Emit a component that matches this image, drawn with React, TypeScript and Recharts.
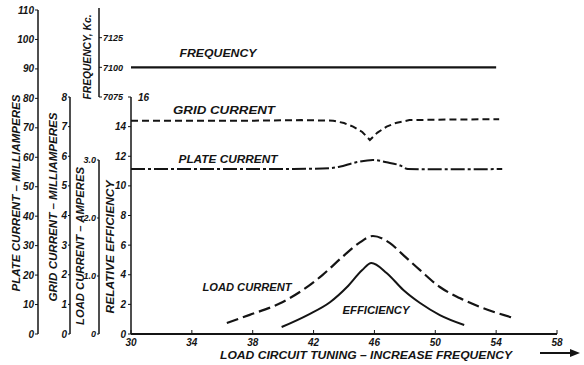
import React from "react";
import { LineChart, Line, XAxis, YAxis } from "recharts";

// Load circuit tuning (x) for each curve
const freqX = [30, 54];
const freqKc = [7100, 7100];

const gridX = [30, 34, 38, 41.2, 43.3, 44, 44.6, 45.2, 45.7, 46.2, 46.8, 47.4, 48.3, 51, 54.2];
const gridMa = [7.2, 7.2, 7.2, 7.22, 7.2, 7.12, 7.0, 6.82, 6.55, 6.8, 7.0, 7.12, 7.22, 7.24, 7.25];

const plateX = [30, 34, 38, 42, 43.1, 43.7, 44.8, 45.9, 46.8, 47.7, 48.2, 50, 54.4];
const plateMa = [56, 56, 56, 56.1, 56.3, 56.8, 58.3, 59.1, 58.3, 57.2, 56, 55.9, 56];

const loadX = [36.3, 37.8, 39.8, 41.3, 42.6, 43.9, 45.0, 45.9, 47.0, 47.9, 49.0, 50.3, 51.6, 53.1, 55.1];
const loadAmps = [0.19, 0.33, 0.53, 0.76, 1.02, 1.33, 1.57, 1.69, 1.57, 1.36, 1.1, 0.81, 0.62, 0.45, 0.28];

const effX = [39.9, 41.6, 43.1, 44.2, 45.2, 45.8, 46.8, 47.9, 49.0, 50.3, 51.9];
const effRel = [0.47, 1.28, 2.16, 3.17, 4.32, 4.79, 4.12, 2.97, 2.09, 1.28, 0.61];

const xTicks = [30, 34, 38, 42, 46, 50, 54, 58];
const effTicks = [0, 2, 4, 6, 8, 10, 12, 14, 16];
const plateTicks = [0, 10, 20, 30, 40, 50, 60, 70, 80, 90, 100, 110];
const gridTicks = [0, 1, 2, 3, 4, 5, 6, 7, 8];
const loadTicks = [0, 1, 2, 3];
const freqTicks = [7075, 7100, 7125];

const W = 584;
const H = 365;
const INK = "#141414";
const FONT = "'Liberation Sans', Arial, sans-serif";

const tickStyle = {
  fontSize: 10,
  fill: INK,
  fontWeight: 700,
  fontStyle: "italic",
  fontFamily: FONT,
};

const zip = (xs: number[], ys: number[]) => xs.map((x, i) => ({ x, y: ys[i] }));

const layer: React.CSSProperties = { position: "absolute", left: 0, top: 0 };

function EffTick({ x, y, payload }: any) {
  const top = payload.value === 16;
  return (
    <text
      x={top ? x + 12 : x}
      y={y}
      textAnchor={top ? "start" : "end"}
      dominantBaseline="central"
      style={tickStyle}
    >
      {payload.value}
    </text>
  );
}

function Caption({ x, y, len, children, rotate }: any) {
  return (
    <text
      x={x}
      y={y}
      textAnchor="middle"
      dominantBaseline="central"
      textLength={len}
      lengthAdjust="spacingAndGlyphs"
      transform={rotate ? `rotate(-90 ${x} ${y})` : undefined}
      fill={INK}
      fontSize={10}
      fontWeight={700}
      fontStyle="italic"
      fontFamily={FONT}
    >
      {children}
    </text>
  );
}

// x scale shared by every layer: 30 sits at px 131, 58 at px 557
function HiddenX({ padLeft }: { padLeft: number }) {
  return (
    <XAxis
      dataKey="x"
      type="number"
      domain={[30, 58]}
      hide
      padding={{ left: padLeft, right: 0 }}
      allowDataOverflow
    />
  );
}

export default function App() {
  const axisLine = { stroke: INK, strokeWidth: 1.5 };
  return (
    <div style={{ ...layer, width: W, height: H, background: "#fff" }}>
      {/* plate current, 0-110 mA */}
      <div style={layer}>
        <LineChart width={W} height={H} data={zip(plateX, plateMa)} margin={{ top: 10, right: 27, bottom: 31, left: 8 }}>
          <HiddenX padLeft={93} />
          <YAxis
            type="number"
            domain={[0, 110]}
            ticks={plateTicks}
            width={30}
            tick={tickStyle}
            tickSize={3}
            tickMargin={1}
            axisLine={axisLine}
            tickLine={{ stroke: INK }}
          />
          <Line
            dataKey="y"
            type="monotone"
            stroke={INK}
            strokeWidth={2}
            strokeDasharray="14 3 3 3"
            dot={false}
            isAnimationActive={false}
          />
        </LineChart>
      </div>

      {/* grid current, 0-8 mA */}
      <div style={layer}>
        <LineChart width={W} height={H} data={zip(gridX, gridMa)} margin={{ top: 97, right: 27, bottom: 31, left: 50 }}>
          <HiddenX padLeft={61} />
          <YAxis
            type="number"
            domain={[0, 8]}
            ticks={gridTicks}
            width={20}
            tick={tickStyle}
            tickSize={2}
            tickMargin={1}
            axisLine={axisLine}
            tickLine={{ stroke: INK }}
          />
          <Line
            dataKey="y"
            type="linear"
            stroke={INK}
            strokeWidth={2}
            strokeDasharray="7 4"
            dot={false}
            isAnimationActive={false}
          />
        </LineChart>
      </div>

      {/* load current, 0-3 A */}
      <div style={layer}>
        <LineChart width={W} height={H} data={zip(loadX, loadAmps)} margin={{ top: 160, right: 27, bottom: 31, left: 74 }}>
          <HiddenX padLeft={32} />
          <YAxis
            type="number"
            domain={[0, 3]}
            ticks={loadTicks}
            width={25}
            tick={{ ...tickStyle, fontSize: 9 }}
            tickSize={2}
            tickMargin={1}
            tickFormatter={(v: number) => (v === 0 ? "0" : v.toFixed(1))}
            axisLine={axisLine}
            tickLine={{ stroke: INK }}
          />
          <Line
            dataKey="y"
            type="monotone"
            stroke={INK}
            strokeWidth={2.2}
            strokeDasharray="12 5"
            dot={false}
            isAnimationActive={false}
          />
        </LineChart>
      </div>

      {/* frequency, Kc */}
      <div style={layer}>
        <LineChart width={W} height={H} data={zip(freqX, freqKc)} margin={{ top: 8, right: 27, bottom: 268, left: 99 }}>
          <HiddenX padLeft={32} />
          <YAxis
            type="number"
            domain={[7075, 7150]}
            ticks={freqTicks}
            mirror
            width={30}
            tick={{ ...tickStyle, fontSize: 9 }}
            tickSize={3}
            tickMargin={1}
            axisLine={axisLine}
            tickLine={{ stroke: INK }}
          />
          <Line dataKey="y" type="linear" stroke={INK} strokeWidth={2.2} dot={false} isAnimationActive={false} />
        </LineChart>
      </div>

      {/* relative efficiency and the tuning axis */}
      <div style={layer}>
        <LineChart width={W} height={H} data={zip(effX, effRel)} margin={{ top: 97, right: 27, bottom: 11, left: 106 }}>
          <XAxis
            dataKey="x"
            type="number"
            domain={[30, 58]}
            ticks={xTicks}
            height={20}
            tick={tickStyle}
            tickSize={-4}
            tickMargin={9}
            axisLine={{ stroke: INK, strokeWidth: 2 }}
            tickLine={{ stroke: INK }}
          />
          <YAxis
            type="number"
            domain={[0, 16]}
            ticks={effTicks}
            width={25}
            tick={<EffTick />}
            tickSize={3}
            tickMargin={2}
            axisLine={axisLine}
            tickLine={{ stroke: INK }}
          />
          <Line dataKey="y" type="monotone" stroke={INK} strokeWidth={2} dot={false} isAnimationActive={false} />
        </LineChart>
      </div>

      <svg width={W} height={H} style={layer}>
        <Caption x={218} y={53} len={77}>FREQUENCY</Caption>
        <Caption x={224} y={110} len={102}>GRID CURRENT</Caption>
        <Caption x={228} y={159} len={99}>PLATE CURRENT</Caption>
        <Caption x={247} y={287} len={89}>LOAD CURRENT</Caption>
        <Caption x={376} y={310} len={67}>EFFICIENCY</Caption>
        <Caption x={366} y={355} len={292}>LOAD CIRCUIT TUNING – INCREASE FREQUENCY</Caption>
        <Caption x={16} y={193} len={197} rotate>PLATE CURRENT – MILLIAMPERES</Caption>
        <Caption x={53} y={207} len={189} rotate>GRID CURRENT – MILLIAMPERES</Caption>
        <Caption x={80} y={246} len={158} rotate>LOAD CURRENT – AMPERES</Caption>
        <Caption x={110} y={247} len={133} rotate>RELATIVE EFFICIENCY</Caption>
        <Caption x={87} y={57} len={85} rotate>FREQUENCY, Kc.</Caption>
        <line x1={540} y1={353} x2={572} y2={353} stroke={INK} strokeWidth={2} />
        <polygon points="580,353 570,349 570,357" fill={INK} />
      </svg>
    </div>
  );
}
